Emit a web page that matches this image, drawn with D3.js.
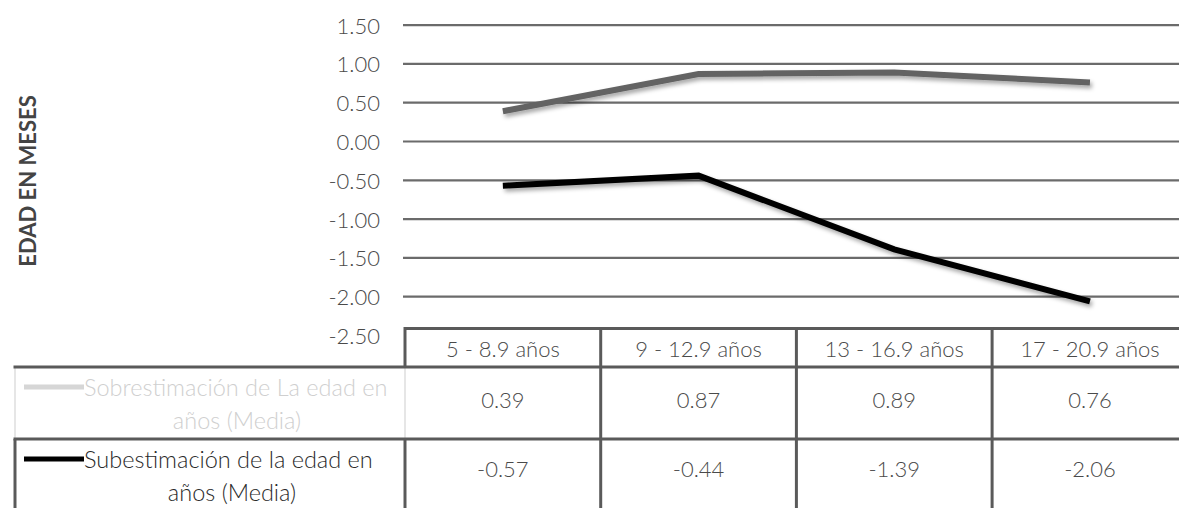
<!DOCTYPE html>
<html>
<head>
<meta charset="utf-8">
<script src="https://cdn.jsdelivr.net/npm/d3@7"></script>
<style>
  html, body { margin: 0; padding: 0; background: #fff; }
  svg { display: block; }
  text { font-family: Lato, "Open Sans", sans-serif; }
</style>
</head>
<body>
<svg id="chart" width="1179" height="508"></svg>
<script>
// Age groups and the two mean estimation errors
const categories = ["5 - 8.9 años", "9 - 12.9 años", "13 - 16.9 años", "17 - 20.9 años"];
const sobreValues = [0.39, 0.87, 0.89, 0.76];
const subValues = [-0.57, -0.44, -1.39, -2.06];
const yTicks = [1.5, 1.0, 0.5, 0.0, -0.5, -1.0, -1.5, -2.0, -2.5];
const seriesNames = [
  ["Sobrestimación de La edad en", "años (Media)"],
  ["Subestimación de la edad en", "años (Media)"]
];
const axisTitle = "EDAD EN MESES";

const svg = d3.select("#chart");
const W = 1179;

const plotLeft = 405;
const colW = 195.7;
const x = d3.scaleBand().domain(categories).range([plotLeft, plotLeft + colW * categories.length]);
const y = d3.scaleLinear().domain([-2.5, 1.5]).range([335.5, 25.1]);

const defs = svg.append("defs");
const f = defs.append("filter").attr("id", "shadow")
  .attr("x", "-10%").attr("y", "-30%").attr("width", "120%").attr("height", "160%");
f.append("feDropShadow").attr("dx", 2).attr("dy", 3).attr("stdDeviation", 2)
  .attr("flood-color", "#000").attr("flood-opacity", 0.35);

const textColor = "#4a4a4a";

// Horizontal gridlines
svg.append("g").selectAll("line")
  .data(yTicks.filter(d => d > -2.5))
  .join("line")
  .attr("x1", 403).attr("x2", W)
  .attr("y1", d => y(d)).attr("y2", d => y(d))
  .attr("stroke", "#6b6b6b").attr("stroke-width", 2.2);

const fmt = v => d3.format(".2f")(v).replace("−", "-");

// Tick labels
svg.append("g").selectAll("text")
  .data(yTicks)
  .join("text")
  .attr("x", 380).attr("y", d => y(d))
  .attr("text-anchor", "end").attr("dominant-baseline", "central")
  .attr("font-size", 22).attr("font-weight", 300).attr("fill", textColor)
  .text(fmt);

// Axis title
svg.append("text")
  .attr("transform", `translate(27,181) rotate(-90)`)
  .attr("text-anchor", "middle").attr("dominant-baseline", "central")
  .attr("font-size", 22).attr("font-weight", "bold").attr("fill", "#444")
  .text(axisTitle);

// Data lines
const line = d3.line()
  .x((d, i) => x(categories[i]) + x.bandwidth() / 2)
  .y(d => y(d));

svg.append("path").datum(sobreValues)
  .attr("d", line).attr("fill", "none")
  .attr("stroke", "#636363").attr("stroke-width", 6)
  .attr("filter", "url(#shadow)");
svg.append("path").datum(subValues)
  .attr("d", line).attr("fill", "none")
  .attr("stroke", "#000").attr("stroke-width", 6)
  .attr("filter", "url(#shadow)");

// Data table beneath the plot
const rowTop = 328.5, row1 = 367, row2 = 439, rowBottom = 520;
const tableRight = plotLeft + colW * categories.length;
const legendLeft = 15;
const dark = "#5a5a5a", light = "#e6e6e6";
const t = svg.append("g");

// light borders of the first series row
t.append("line").attr("x1", legendLeft).attr("x2", legendLeft).attr("y1", row1).attr("y2", row2)
  .attr("stroke", light).attr("stroke-width", 2);
t.append("line").attr("x1", plotLeft).attr("x2", plotLeft).attr("y1", row1).attr("y2", row2)
  .attr("stroke", light).attr("stroke-width", 2);

// dark borders
t.append("line").attr("x1", plotLeft).attr("x2", tableRight).attr("y1", rowTop).attr("y2", rowTop)
  .attr("stroke", dark).attr("stroke-width", 3);
[row1, row2].forEach(r => t.append("line").attr("x1", legendLeft - 1.5).attr("x2", tableRight)
  .attr("y1", r).attr("y2", r).attr("stroke", dark).attr("stroke-width", 3));
t.append("line").attr("x1", plotLeft).attr("x2", plotLeft).attr("y1", rowTop - 1.5).attr("y2", row1)
  .attr("stroke", dark).attr("stroke-width", 3);
t.append("line").attr("x1", plotLeft).attr("x2", plotLeft).attr("y1", row2).attr("y2", rowBottom)
  .attr("stroke", dark).attr("stroke-width", 3);
t.append("line").attr("x1", legendLeft).attr("x2", legendLeft).attr("y1", row2).attr("y2", rowBottom)
  .attr("stroke", dark).attr("stroke-width", 3);
t.selectAll("line.col").data(categories.slice(1).concat(["end"]))
  .join("line").attr("class", "col")
  .attr("x1", (d, i) => plotLeft + colW * (i + 1)).attr("x2", (d, i) => plotLeft + colW * (i + 1))
  .attr("y1", rowTop - 1.5).attr("y2", rowBottom)
  .attr("stroke", dark).attr("stroke-width", 3);

// Category labels
t.selectAll("text.cat").data(categories).join("text").attr("class", "cat")
  .attr("x", d => x(d) + x.bandwidth() / 2).attr("y", 348)
  .attr("text-anchor", "middle").attr("dominant-baseline", "central")
  .attr("font-size", 22).attr("font-weight", 300).attr("fill", textColor).text(d => d);

// Values
t.selectAll("text.v1").data(sobreValues).join("text").attr("class", "v1")
  .attr("x", (d, i) => x(categories[i]) + x.bandwidth() / 2).attr("y", 399)
  .attr("text-anchor", "middle").attr("dominant-baseline", "central")
  .attr("font-size", 22).attr("font-weight", 300).attr("fill", textColor).text(fmt);
t.selectAll("text.v2").data(subValues).join("text").attr("class", "v2")
  .attr("x", (d, i) => x(categories[i]) + x.bandwidth() / 2).attr("y", 468)
  .attr("text-anchor", "middle").attr("dominant-baseline", "central")
  .attr("font-size", 22).attr("font-weight", 300).attr("fill", textColor).text(fmt);

// Legend keys
const legendColors = ["#d6d6d6", "#000"];
const textColors = ["#cfcfcf", "#2a2a2a"];
const legendRows = [[387, 420, 237], [459, 492, 232]];
legendRows.forEach((r, k) => {
  t.append("line").attr("x1", 24).attr("x2", 84).attr("y1", r[0]).attr("y2", r[0])
    .attr("stroke", legendColors[k]).attr("stroke-width", 5);
  t.append("text").attr("x", 84).attr("y", r[0]).attr("dominant-baseline", "central")
    .attr("font-size", 23.5).attr("font-weight", 300).attr("fill", textColors[k]).text(seriesNames[k][0]);
  t.append("text").attr("x", r[2]).attr("y", r[1]).attr("text-anchor", "middle")
    .attr("dominant-baseline", "central")
    .attr("font-size", 23.5).attr("font-weight", 300).attr("fill", textColors[k]).text(seriesNames[k][1]);
});
</script>
</body>
</html>
